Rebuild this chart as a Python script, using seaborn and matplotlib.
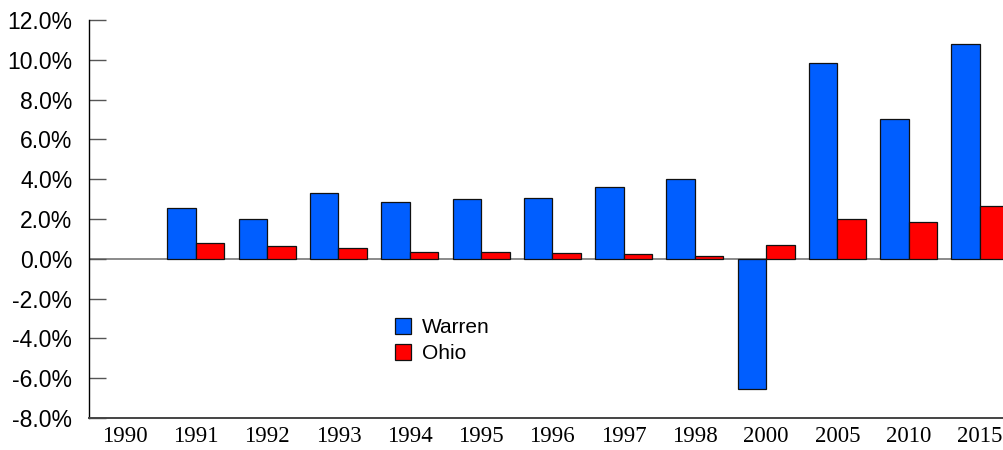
import numpy as np
import pandas as pd
import matplotlib
matplotlib.use("Agg")
import matplotlib.pyplot as plt
import seaborn as sns
from matplotlib.ticker import FuncFormatter

# values (percent change)
years = ["1990", "1991", "1992", "1993", "1994", "1995", "1996",
         "1997", "1998", "2000", "2005", "2010", "2015"]
warren = [np.nan, 2.56, 2.0, 3.3, 2.85, 3.0, 3.05, 3.6, 4.0, -6.53, 9.85, 7.03, 10.8]
ohio = [np.nan, 0.8, 0.65, 0.55, 0.35, 0.35, 0.3, 0.25, 0.15, 0.7, 2.0, 1.86, 2.66]
yticks = [-8, -6, -4, -2, 0, 2, 4, 6, 8, 10, 12]

df = pd.DataFrame({
    "Year": years * 2,
    "Change": warren + ohio,
    "Area": ["Warren"] * len(years) + ["Ohio"] * len(years),
})

sns.set_style("white")
plt.rcParams["font.family"] = ["Liberation Sans", "DejaVu Sans"]
plt.rcParams["text.color"] = "black"

fig = plt.figure(figsize=(10.04, 4.5), dpi=100)
ax = fig.add_axes([0.0886, 0.0711, 0.923, 0.8844])

sns.barplot(data=df, x="Year", y="Change", hue="Area", order=years,
            hue_order=["Warren", "Ohio"],
            palette={"Warren": "#005EFF", "Ohio": "#FF0000"},
            edgecolor="#111111", linewidth=0.9, errorbar=None, width=0.8,
            saturation=1, ax=ax)

ax.set_xlim(-0.5, len(years) - 0.5)
ax.set_ylim(-8, 12)
ax.set_yticks(yticks)
ax.yaxis.set_major_formatter(FuncFormatter(lambda v, p: f"{v:.1f}%"))
ax.axhline(0, color="#777777", linewidth=1.2, zorder=0.5)

ax.set_xlabel("")
ax.set_ylabel("")
for s in ["top", "right"]:
    ax.spines[s].set_visible(False)
ax.spines["left"].set_color("black")
ax.spines["left"].set_linewidth(1.0)
ax.spines["bottom"].set_color("#444444")
ax.spines["bottom"].set_linewidth(1.4)

ax.tick_params(axis="y", left=True, direction="in", length=12, width=1.0,
               color="#555555", labelsize=16.5, labelcolor="black", pad=12)
ax.tick_params(axis="x", bottom=False, length=0, pad=6, labelcolor="black")
for lab in ax.get_xticklabels():
    lab.set_fontfamily("Liberation Serif")
    lab.set_fontsize(16.5)

handles, labels = ax.get_legend_handles_labels()
leg = ax.legend(handles, labels, loc="upper left", bbox_to_anchor=(0.393, 0.293),
                bbox_transform=fig.transFigure, frameon=False, fontsize=15,
                handlelength=0.8, handleheight=0.8, handletextpad=0.5,
                labelspacing=0.3, borderpad=0, borderaxespad=0)
for t in leg.get_texts():
    t.set_color("black")

fig.savefig("out.png", dpi=100)
